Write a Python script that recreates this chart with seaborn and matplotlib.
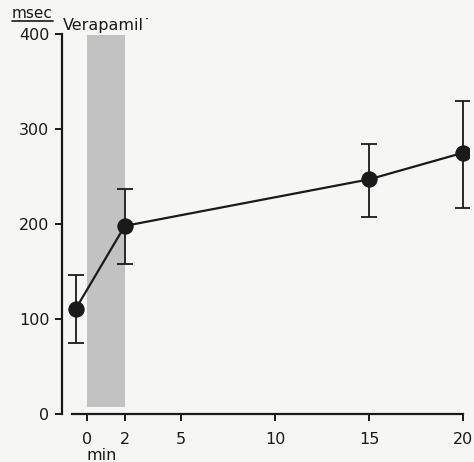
import matplotlib
matplotlib.use("Agg")
import matplotlib.pyplot as plt
from matplotlib.lines import Line2D
import seaborn as sns
import pandas as pd

# data
time_min = [-0.6, 2, 15, 20]
msec_mean = [111, 198, 247, 275]
err_low = [75, 158, 207, 217]
err_high = [146, 237, 284, 330]
x_ticks = [0, 2, 5, 10, 15, 20]
y_ticks = [0, 100, 200, 300, 400]
band = (0, 2)

sns.set_theme(style="white")
plt.rcParams['font.family'] = ['DejaVu Sans']

df = pd.DataFrame({"t": time_min, "v": msec_mean})

fig = plt.figure(figsize=(4.74, 4.62), dpi=100)
fig.patch.set_facecolor("#f6f6f4")
ax = fig.add_axes([62 / 474, 48 / 462, 406.8 / 474, 389.5 / 462])
ax.set_facecolor("#f6f6f4")

ax.axvspan(band[0], band[1], ymin=7 / 410, ymax=399 / 410, color="#c2c2c2", lw=0, zorder=1)

yerr = [[m - lo for m, lo in zip(msec_mean, err_low)],
        [hi - m for m, hi in zip(msec_mean, err_high)]]
ax.errorbar(time_min, msec_mean, yerr=yerr, fmt="none", ecolor="#1a1a1a",
            elinewidth=1.3, capsize=6, capthick=1.3, zorder=2)
sns.lineplot(data=df, x="t", y="v", ax=ax, color="#1a1a1a", lw=1.6,
             marker="o", markersize=11, markeredgecolor="#1a1a1a",
             markerfacecolor="#1a1a1a", zorder=3)

ax.set_xlim(-1.34, 20.3)
ax.set_ylim(0, 410)
ax.set_xticks(x_ticks)
ax.set_yticks(y_ticks)
ax.set_xticklabels([str(v) for v in x_ticks])
ax.set_yticklabels([str(v) for v in y_ticks])
ax.set_xlabel("")
ax.set_ylabel("")

for s in ["top", "right"]:
    ax.spines[s].set_visible(False)
ax.spines["left"].set_bounds(0, 400)
ax.spines["bottom"].set_bounds(-0.8, 20)
for s in ["left", "bottom"]:
    ax.spines[s].set_color("#1a1a1a")
    ax.spines[s].set_linewidth(1.6)
ax.tick_params(axis="both", direction="out", length=5, width=1.4, color="#1a1a1a",
               labelsize=11.5, labelcolor="#1a1a1a", left=True, bottom=True)
ax.tick_params(axis="x", pad=8)
ax.tick_params(axis="y", pad=4)

fig.text(12 / 474, 1 - 14 / 462, "msec", fontsize=11, color="#1a1a1a", va="center", ha="left")
fig.add_artist(Line2D([12 / 474, 53 / 474], [1 - 21 / 462, 1 - 21 / 462], color="#1a1a1a", lw=1.2))
fig.text(63 / 474, 1 - 25 / 462, "Verapamil\u02d9", fontsize=11.5, color="#1a1a1a", va="center", ha="left")
fig.text(102 / 474, 1 - 455 / 462, "min", fontsize=11.5, color="#1a1a1a", va="center", ha="center")

fig.savefig("out.png", dpi=100, facecolor=fig.get_facecolor())
